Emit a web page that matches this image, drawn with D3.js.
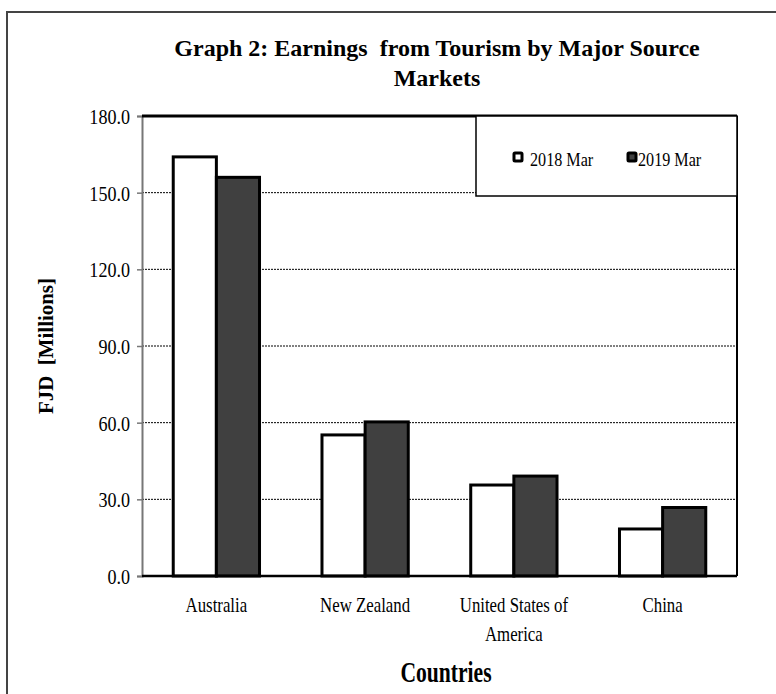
<!DOCTYPE html>
<html>
<head>
<meta charset="utf-8">
<script src="https://cdn.jsdelivr.net/npm/d3@7"></script>
<style>
  body { margin: 0; background: #fff; }
  text { font-family: "Liberation Serif", "Times New Roman", serif; fill: #000; white-space: pre; }
</style>
</head>
<body>
<div class="canvas"></div>
<script>
// data
const countries = ['Australia', 'New Zealand', 'United States of America', 'China'];
const seriesNames = ['2018 Mar', '2019 Mar'];
const mar2018 = [164.0, 55.2, 35.6, 18.4];
const mar2019 = [156.0, 60.3, 39.1, 26.8];
const yTicks = [0, 30, 60, 90, 120, 150, 180];

const dims = { width: 776, height: 694 };
const plot = { left: 142, right: 737, top: 116, bottom: 576 };

const svg = d3.select('.canvas').append('svg')
  .attr('width', dims.width)
  .attr('height', dims.height);

// squeeze text horizontally, the reference font is narrow
const squeeze = (sel, k) => sel.each(function () {
  const w = this.getComputedTextLength();
  d3.select(this).attr('textLength', w * k).attr('lengthAdjust', 'spacingAndGlyphs');
});

// outer frame (only left and top visible)
svg.append('path')
  .attr('d', `M7,${dims.height} V12 H${dims.width}`)
  .attr('fill', 'none')
  .attr('stroke', '#444')
  .attr('stroke-width', 2);

// title
svg.append('text')
  .attr('x', 437).attr('y', 56)
  .attr('text-anchor', 'middle')
  .style('font-size', '24px').style('font-weight', 'bold')
  .text('Graph 2: Earnings  from Tourism by Major Source');
svg.append('text')
  .attr('x', 437).attr('y', 86)
  .attr('text-anchor', 'middle')
  .style('font-size', '24px').style('font-weight', 'bold')
  .text('Markets');

// scales
const y = d3.scaleLinear().domain([0, 180]).range([plot.bottom, plot.top]);
const x0 = d3.scaleBand().domain(countries).range([plot.left, plot.right])
  .paddingInner(0.42).paddingOuter(0.21);
const x1 = d3.scaleBand().domain(seriesNames).range([0, x0.bandwidth()]);
const fill = d3.scaleOrdinal().domain(seriesNames).range(['#ffffff', '#404040']);

// gridlines
svg.append('g')
  .selectAll('line')
  .data(yTicks.filter(t => t > 0 && t < 180))
  .enter().append('line')
    .attr('x1', plot.left).attr('x2', plot.right)
    .attr('y1', d => y(d)).attr('y2', d => y(d))
    .attr('stroke', '#000')
    .attr('stroke-width', 1)
    .attr('stroke-dasharray', '2,1');

// y axis
const yAxis = svg.append('g')
  .attr('transform', `translate(${plot.left}, 0)`)
  .call(d3.axisLeft(y).tickValues(yTicks).tickSize(5).tickPadding(7).tickFormat(d3.format('.1f')));
yAxis.select('.domain').attr('stroke', '#777').attr('stroke-width', 2);
yAxis.selectAll('.tick line').attr('stroke', '#777').attr('stroke-width', 1.5);
yAxis.selectAll('.tick text')
  .style('font-size', '21px')
  .style('font-family', '"Liberation Serif", serif')
  .attr('dy', '0.35em')
  .call(squeeze, 0.86);

// bars
const rows = countries.map((c, i) => ({ country: c, values: [mar2018[i], mar2019[i]] }));
const groups = svg.append('g')
  .selectAll('g')
  .data(rows)
  .enter().append('g')
    .attr('transform', d => `translate(${x0(d.country)}, 0)`);

groups.selectAll('rect')
  .data(d => d.values.map((v, j) => ({ key: seriesNames[j], value: v })))
  .enter().append('rect')
    .attr('x', d => x1(d.key))
    .attr('y', d => y(d.value))
    .attr('width', x1.bandwidth())
    .attr('height', d => y(0) - y(d.value))
    .attr('fill', d => fill(d.key))
    .attr('stroke', '#000')
    .attr('stroke-width', 3);

// plot frame: top, right, bottom
svg.append('line')
  .attr('x1', plot.left).attr('x2', plot.right)
  .attr('y1', plot.top).attr('y2', plot.top)
  .attr('stroke', '#000').attr('stroke-width', 3);
svg.append('line')
  .attr('x1', plot.right).attr('x2', plot.right)
  .attr('y1', plot.top).attr('y2', plot.bottom)
  .attr('stroke', '#000').attr('stroke-width', 2);
svg.append('line')
  .attr('x1', plot.left).attr('x2', plot.right)
  .attr('y1', plot.bottom).attr('y2', plot.bottom)
  .attr('stroke', '#000').attr('stroke-width', 2.5);

// x labels
const xLabels = svg.append('g')
  .selectAll('text')
  .data(countries)
  .enter().append('text')
    .attr('text-anchor', 'middle')
    .attr('x', d => x0(d) + x0.bandwidth() / 2)
    .attr('y', 612)
    .style('font-size', '21px');
xLabels.each(function (d) {
  const t = d3.select(this);
  const lines = d === 'United States of America' ? ['United States of', 'America'] : [d];
  lines.forEach((l, i) => {
    t.append('tspan')
      .attr('x', x0(d) + x0.bandwidth() / 2)
      .attr('dy', i === 0 ? 0 : 29)
      .text(l);
  });
});
xLabels.selectAll('tspan').call(squeeze, 0.8);

// axis titles
svg.append('text')
  .attr('x', 446).attr('y', 682)
  .attr('text-anchor', 'middle')
  .style('font-size', '30px').style('font-weight', 'bold')
  .text('Countries')
  .call(squeeze, 0.72);

svg.append('text')
  .attr('transform', `translate(53, ${(plot.top + plot.bottom) / 2}) rotate(-90)`)
  .attr('text-anchor', 'middle')
  .style('font-size', '22px').style('font-weight', 'bold')
  .text('FJD  [Millions]')
  .call(squeeze, 0.95);

// legend
const legend = svg.append('g');
legend.append('rect')
  .attr('x', 476).attr('y', plot.top)
  .attr('width', plot.right - 476).attr('height', 80)
  .attr('fill', '#fff')
  .attr('stroke', '#000').attr('stroke-width', 1.5);

const legendX = [514, 628];
const items = legend.selectAll('g.item')
  .data(seriesNames)
  .enter().append('g')
    .attr('class', 'item')
    .attr('transform', (d, i) => `translate(${legendX[i]}, 158)`);
items.append('rect')
  .attr('x', 0).attr('y', -5)
  .attr('width', 8).attr('height', 8)
  .attr('rx', 1)
  .attr('fill', d => fill(d))
  .attr('stroke', '#000').attr('stroke-width', 3);
items.append('text')
  .attr('x', (d, i) => i === 0 ? 16 : 10)
  .attr('y', 8)
  .style('font-size', '19px')
  .text(d => d)
  .call(squeeze, 0.85);
</script>
</body>
</html>
